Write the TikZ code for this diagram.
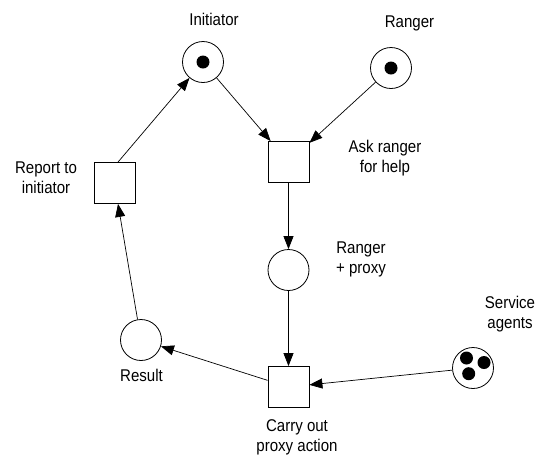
\documentclass[tikz,border=0pt]{standalone}
\usepackage{fontspec}
\setmainfont{Liberation Sans}[FakeStretch=0.885]
\usetikzlibrary{arrows.meta}
\begin{document}
\begin{tikzpicture}[x=1pt,y=-1pt,
  place/.style={circle,draw,line width=0.8pt,minimum size=41pt,inner sep=0pt},
  trans/.style={rectangle,draw,line width=0.8pt,minimum size=41pt,inner sep=0pt},
  tok/.style={circle,fill=black,minimum size=13pt,inner sep=0pt},
  lbl/.style={align=center,font=\fontsize{17pt}{20pt}\selectfont,inner sep=0pt},
  arc/.style={line width=0.7pt,-{Triangle[length=13pt,width=10pt]}}]
\useasboundingbox (0,0) rectangle (542,459);
\node[place] (ini) at (203,62) {};
\node[tok] (initok) at (203,62) {};
\node[place] (rng) at (391,68) {};
\node[tok] (rngtok) at (391,68) {};
\node[trans] (ask) at (288.5,162) {};
\node[trans] (rep) at (114.5,183) {};
\node[place] (rp) at (288.5,270) {};
\node[place] (res) at (141,340) {};
\node[trans] (car) at (288.5,387) {};
\node[place] (svc) at (473,368) {};
\node[tok] (t1) at (466.5,358) {};
\node[tok] (t2) at (484,362.5) {};
\node[tok] (t3) at (468.7,373.7) {};
% labels
\node[lbl] (lini) at (214,19) {Initiator};
\node[lbl] (lrng) at (409.5,23) {Ranger};
\node[lbl] (lask) at (385,158) {Ask ranger\\for help};
\node[lbl] (lrep) at (46,178) {Report to\\initiator};
\node[lbl] (lrp) at (361,259) {Ranger\\+ proxy};
\node[lbl] (lres) at (141.5,375) {Result};
\node[lbl] (lcar) at (297,437) {Carry out\\proxy action};
\node[lbl] (lsvc) at (510,314) {Service\\agents};
% arcs
\draw[arc] (ini) -- (ask);
\draw[arc] (rng) -- (ask);
\draw[arc] (ask) -- (rp);
\draw[arc] (rp) -- (car);
\draw[arc] (svc) -- (car);
\draw[arc] (car) -- (res);
\draw[arc] (res) -- (rep);
\draw[arc] ([xshift=3.5pt]rep.north) -- (ini);
\end{tikzpicture}
\end{document}
